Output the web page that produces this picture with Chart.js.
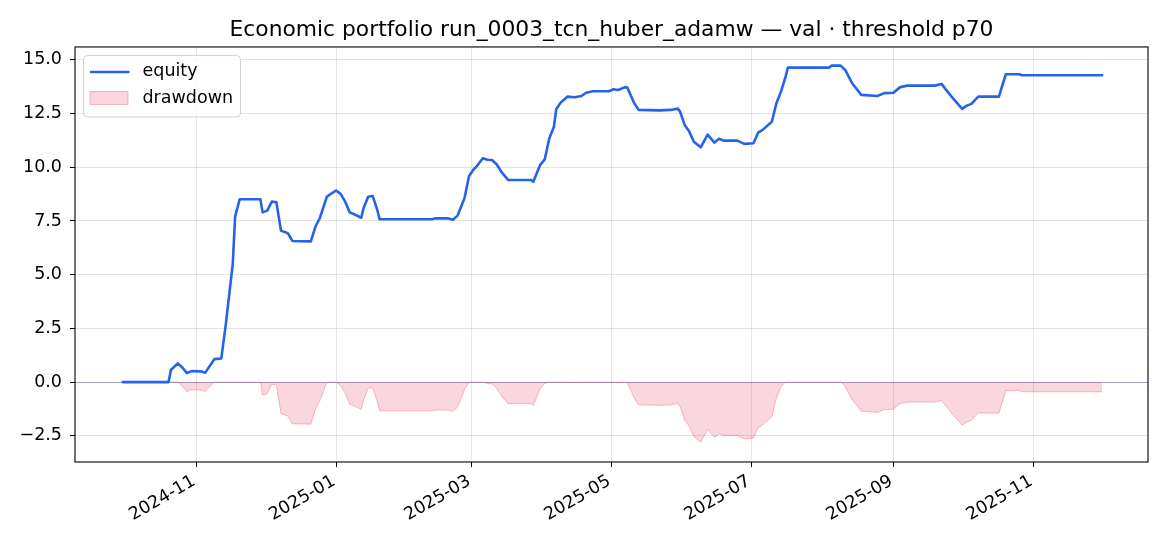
<!DOCTYPE html>
<html>
<head>
<meta charset="utf-8">
<script src="https://cdn.jsdelivr.net/npm/chart.js@4.4.1/dist/chart.umd.min.js"></script>
<style>
  body { margin: 0; background: #fff; }
  #wrap { width: 1170px; height: 546px; }
</style>
</head>
<body>
<div id="wrap"><canvas id="chartEquity" width="1170" height="546"></canvas></div>
<script>
const dates = [
    '2024-09-30', '2024-10-20', '2024-10-21', '2024-10-24', '2024-10-26', '2024-10-28', '2024-10-30',
    '2024-11-03', '2024-11-05', '2024-11-09', '2024-11-12', '2024-11-14', '2024-11-17', '2024-11-18',
    '2024-11-20', '2024-11-29', '2024-11-30', '2024-12-02', '2024-12-04', '2024-12-06', '2024-12-08',
    '2024-12-11', '2024-12-13', '2024-12-21', '2024-12-23', '2024-12-25', '2024-12-28', '2025-01-01',
    '2025-01-03', '2025-01-05', '2025-01-07', '2025-01-09', '2025-01-12', '2025-01-13', '2025-01-15',
    '2025-01-17', '2025-01-19', '2025-01-20', '2025-02-12', '2025-02-13', '2025-02-19', '2025-02-21',
    '2025-02-23', '2025-02-26', '2025-02-28', '2025-03-02', '2025-03-03', '2025-03-06', '2025-03-08',
    '2025-03-10', '2025-03-12', '2025-03-14', '2025-03-15', '2025-03-17', '2025-03-27', '2025-03-28',
    '2025-03-31', '2025-04-02', '2025-04-04', '2025-04-06', '2025-04-07', '2025-04-09', '2025-04-12',
    '2025-04-15', '2025-04-18', '2025-04-20', '2025-04-23', '2025-04-30', '2025-05-02', '2025-05-04',
    '2025-05-07', '2025-05-08', '2025-05-11', '2025-05-13', '2025-05-22', '2025-05-27', '2025-05-30',
    '2025-05-31', '2025-06-02', '2025-06-04', '2025-06-06', '2025-06-09', '2025-06-12', '2025-06-15',
    '2025-06-17', '2025-06-19', '2025-06-25', '2025-06-28', '2025-07-02', '2025-07-04', '2025-07-06',
    '2025-07-10', '2025-07-12', '2025-07-14', '2025-07-16', '2025-07-17', '2025-08-04', '2025-08-05',
    '2025-08-09', '2025-08-11', '2025-08-14', '2025-08-18', '2025-08-25', '2025-08-28', '2025-09-01',
    '2025-09-04', '2025-09-07', '2025-09-19', '2025-09-22', '2025-09-24', '2025-09-27', '2025-10-01',
    '2025-10-03', '2025-10-05', '2025-10-08', '2025-10-17', '2025-10-20', '2025-10-26', '2025-10-27',
    '2025-12-01'
];

const equity = [
    0, 0, 0.56, 0.87, 0.68, 0.42, 0.51,
    0.50, 0.44, 1.07, 1.10, 2.73, 5.53, 7.70,
    8.51, 8.51, 7.90, 7.98, 8.40, 8.37, 7.05,
    6.93, 6.57, 6.55, 7.23, 7.65, 8.63, 8.92,
    8.76, 8.40, 7.89, 7.81, 7.65, 8.09, 8.63,
    8.66, 8.01, 7.58, 7.58, 7.62, 7.62, 7.56,
    7.75, 8.56, 9.59, 9.91, 10.00, 10.42, 10.35,
    10.34, 10.14, 9.80, 9.67, 9.41, 9.41, 9.33,
    10.11, 10.37, 11.35, 11.89, 12.70, 13.02, 13.29,
    13.26, 13.32, 13.47, 13.54, 13.54, 13.63, 13.60,
    13.73, 13.71, 12.98, 12.67, 12.65, 12.67, 12.73,
    12.59, 11.97, 11.66, 11.19, 10.93, 11.52, 11.15,
    11.33, 11.24, 11.24, 11.09, 11.12, 11.61, 11.74,
    12.12, 12.98, 13.52, 14.22, 14.64, 14.64, 14.73,
    14.73, 14.53, 13.91, 13.37, 13.32, 13.45, 13.47,
    13.73, 13.80, 13.80, 13.88, 13.60, 13.21, 12.72,
    12.87, 12.95, 13.29, 13.29, 14.33, 14.33, 14.28,
    14.28
];

const drawdown = [
    0, 0, 0, 0, -0.19, -0.45, -0.36,
    -0.37, -0.43, 0, 0, 0, 0, 0,
    0, 0, -0.61, -0.53, -0.11, -0.14, -1.46,
    -1.58, -1.94, -1.96, -1.28, -0.86, 0, 0,
    -0.16, -0.52, -1.03, -1.11, -1.27, -0.83, -0.29,
    -0.26, -0.91, -1.34, -1.34, -1.30, -1.30, -1.36,
    -1.17, -0.36, 0, 0, 0, 0, -0.07,
    -0.08, -0.28, -0.62, -0.75, -1.01, -1.01, -1.09,
    -0.31, -0.05, 0, 0, 0, 0, 0,
    -0.03, 0, 0, 0, 0, 0, -0.03,
    0, -0.02, -0.75, -1.06, -1.08, -1.06, -1.00,
    -1.14, -1.76, -2.07, -2.54, -2.80, -2.21, -2.58,
    -2.40, -2.49, -2.49, -2.64, -2.61, -2.12, -1.99,
    -1.61, -0.75, -0.21, 0, 0, 0, 0,
    0, -0.20, -0.82, -1.36, -1.41, -1.28, -1.26,
    -1.00, -0.93, -0.93, -0.85, -1.13, -1.52, -2.01,
    -1.86, -1.78, -1.44, -1.44, -0.40, -0.40, -0.45,
    -0.45
];

const xTickLabels = ['2024-11', '2025-01', '2025-03', '2025-05', '2025-07', '2025-09', '2025-11'];
const yTicks = [-2.5, 0, 2.5, 5, 7.5, 10, 12.5, 15];

const DAY = 86400000;
const toTime = s => Date.parse(s + 'T00:00:00Z');
const equityPoints = dates.map((d, i) => ({ x: toTime(d), y: equity[i] }));
const drawdownPoints = dates.map((d, i) => ({ x: toTime(d), y: drawdown[i] }));

const BLUE = '#2563eb';
const RED_FILL = 'rgba(225, 29, 72, 0.18)';
const RED_EDGE = 'rgba(225, 29, 72, 0.28)';
const FONT = 'DejaVu Sans';

// full box round the plot, like matplotlib spines
const framePlugin = {
    id: 'frame',
    afterDraw(chart) {
        const { ctx, chartArea: a } = chart;
        ctx.save();
        ctx.strokeStyle = '#000';
        ctx.lineWidth = 1.1;
        ctx.strokeRect(a.left, a.top, a.right - a.left, a.bottom - a.top);
        ctx.restore();
    }
};

// legend box in the upper left corner of the plot
const legendPlugin = {
    id: 'insideLegend',
    afterDatasetsDraw(chart) {
        const { ctx, chartArea: a } = chart;
        const x = a.left + 8.5, y = a.top + 8.5, w = 157, h = 61.5, r = 4;
        ctx.save();
        ctx.beginPath();
        ctx.roundRect(x, y, w, h, r);
        ctx.fillStyle = 'rgba(255,255,255,0.8)';
        ctx.fill();
        ctx.strokeStyle = '#d4d4d4';
        ctx.lineWidth = 1;
        ctx.stroke();

        ctx.beginPath();
        ctx.moveTo(x + 6.5, y + 16.5);
        ctx.lineTo(x + 46, y + 16.5);
        ctx.strokeStyle = BLUE;
        ctx.lineWidth = 2.6;
        ctx.stroke();

        ctx.fillStyle = RED_FILL;
        ctx.fillRect(x + 6.5, y + 36, 38, 13);
        ctx.strokeStyle = RED_EDGE;
        ctx.lineWidth = 1;
        ctx.strokeRect(x + 6.5, y + 36, 38, 13);

        ctx.fillStyle = '#000';
        ctx.font = '17.5px "' + FONT + '"';
        ctx.textBaseline = 'middle';
        ctx.textAlign = 'left';
        ctx.fillText('equity', x + 59, y + 16);
        ctx.fillText('drawdown', x + 59, y + 43);
        ctx.restore();
    }
};

const ctx = document.getElementById('chartEquity').getContext('2d');
const chart = new Chart(ctx, {
    type: 'line',
    data: {
        datasets: [
            {
                label: 'equity',
                data: equityPoints,
                borderColor: BLUE,
                borderWidth: 2.6,
                borderJoinStyle: 'round',
                borderCapStyle: 'round',
                backgroundColor: 'transparent',
                pointRadius: 0,
                tension: 0,
                fill: false,
                order: 1
            },
            {
                label: 'drawdown',
                data: drawdownPoints,
                borderColor: RED_EDGE,
                borderWidth: 1,
                backgroundColor: RED_FILL,
                pointRadius: 0,
                tension: 0,
                fill: 'origin',
                order: 2
            }
        ]
    },
    options: {
        responsive: false,
        animation: false,
        layout: { padding: { left: 0, right: 22, top: 0, bottom: 0 } },
        plugins: {
            legend: { display: false },
            tooltip: { enabled: false },
            title: {
                display: true,
                fullSize: false,
                text: 'Economic portfolio run_0003_tcn_huber_adamw \u2014 val \u00b7 threshold p70',
                color: '#000',
                font: { family: FONT, size: 21.8, weight: 'normal', lineHeight: 1.2 },
                padding: { top: 17, bottom: 3.8 }
            }
        },
        scales: {
            x: {
                type: 'linear',
                min: toTime('2024-10-01') - 21.8 * DAY,
                max: toTime('2024-10-01') + 446 * DAY,
                afterBuildTicks: scale => {
                    scale.ticks = xTickLabels.map(l => ({ value: toTime(l + '-01') }));
                },
                afterFit: scale => { scale.height = 84; },
                ticks: {
                    autoSkip: false,
                    minRotation: 30,
                    maxRotation: 30,
                    padding: 4,
                    labelOffset: -2,
                    color: '#000',
                    font: { family: FONT, size: 17.5 },
                    callback: (v, i) => xTickLabels[i]
                },
                grid: {
                    color: 'rgba(0,0,0,0.1)',
                    tickColor: '#000',
                    tickLength: 5,
                    lineWidth: 1
                },
                border: { display: false }
            },
            y: {
                min: -3.72,
                max: 15.6,
                afterBuildTicks: scale => {
                    scale.ticks = yTicks.map(v => ({ value: v }));
                },
                afterFit: scale => { scale.width = 75; },
                ticks: {
                    padding: 8,
                    color: '#000',
                    font: { family: FONT, size: 17.5 },
                    callback: v => (v < 0 ? '\u2212' : '') + Math.abs(v).toFixed(1)
                },
                grid: {
                    color: c => (c.tick && c.tick.value === 0) ? 'rgba(90,105,140,0.6)' : 'rgba(0,0,0,0.1)',
                    tickColor: '#000',
                    tickLength: 5,
                    lineWidth: 1
                },
                border: { display: false }
            }
        }
    },
    plugins: [framePlugin, legendPlugin]
});
</script>
</body>
</html>
